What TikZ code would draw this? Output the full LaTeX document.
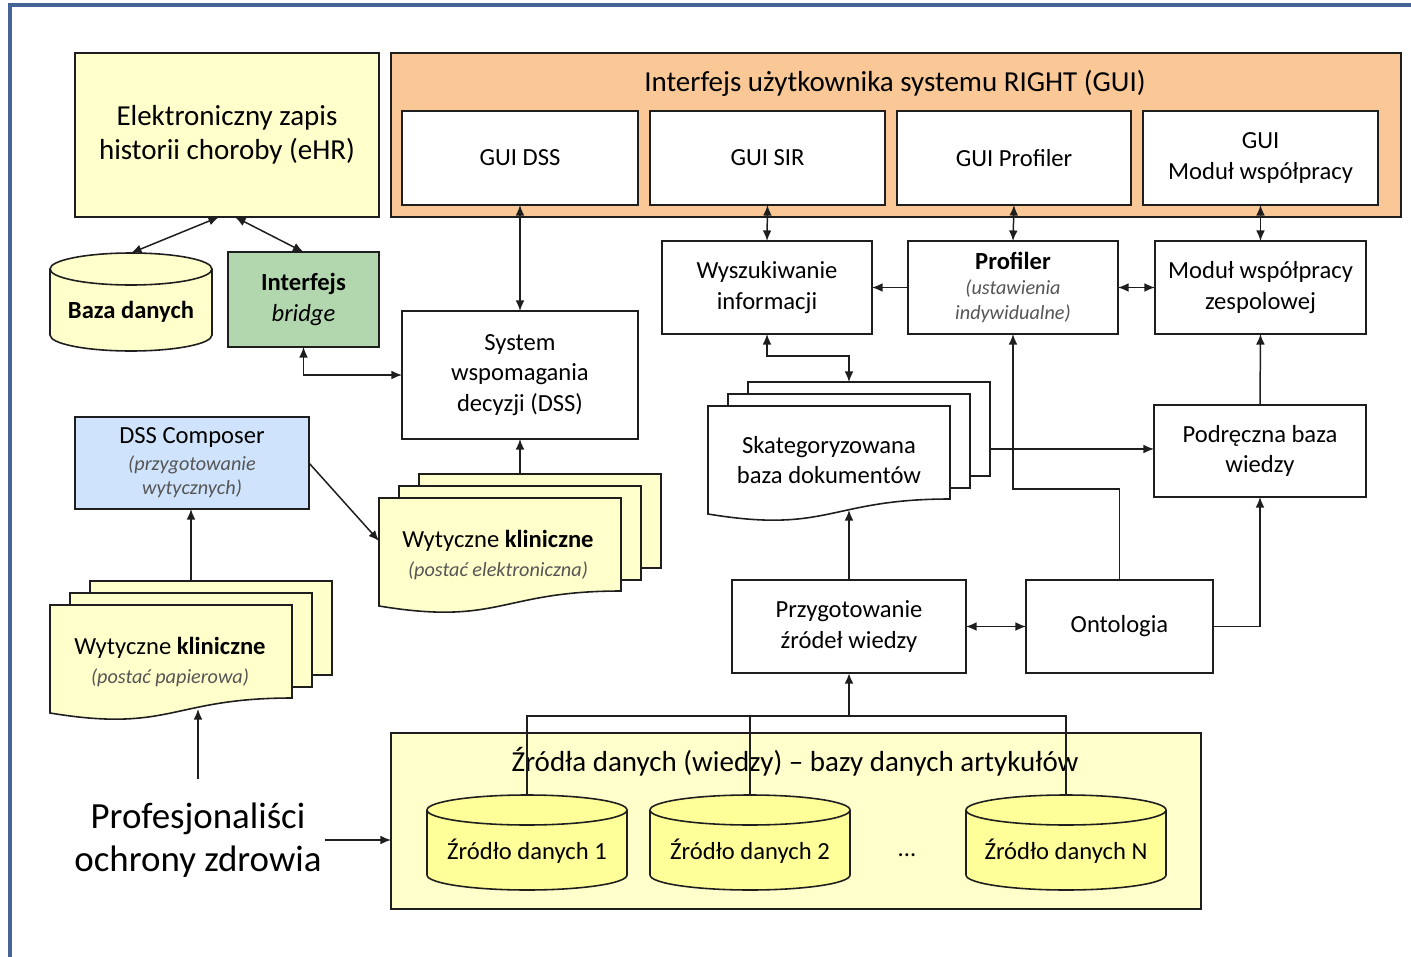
\documentclass[tikz,border=0pt]{standalone}
\usepackage{fontspec}
\setmainfont{Carlito}
\usepackage{tikz}
\usetikzlibrary{arrows.meta,calc}
\definecolor{figline}{RGB}{30,30,30}
\definecolor{figframe}{RGB}{68,100,152}
\definecolor{figyel}{RGB}{255,255,204}
\definecolor{figdb}{RGB}{255,255,153}
\definecolor{figgui}{RGB}{250,200,150}
\definecolor{figgreen}{RGB}{178,214,174}
\definecolor{figblue}{RGB}{207,228,252}
\definecolor{fignote}{RGB}{85,85,85}
\tikzset{
  sc/.style   ={draw=figline, line width=0.9pt},
  sz/.style 2 args={minimum width=#1*0.02cm, minimum height=#2*0.02cm, outer sep=0pt},
  box/.style  ={sc, fill=white, align=center, inner sep=0pt, font=\fontsize{14}{17.5}\selectfont},
  txt/.style  ={align=center, inner sep=0pt, font=\fontsize{14}{17.5}\selectfont},
  ptr/.style  ={draw=figline, line width=0.85pt, -{Latex[length=6pt,width=5pt]}},
  dptr/.style ={draw=figline, line width=0.85pt, {Latex[length=6pt,width=5pt]}-{Latex[length=6pt,width=5pt]}},
  bus/.style  ={draw=figline, line width=0.6pt},
}
\newcommand{\notetxt}[1]{{\fontsize{11.5}{14}\selectfont\itshape\color{fignote}#1}}
% stack of three pages: name, left, top, fill
\newcommand{\docstack}[4]{%
  \draw[sc, fill=#4] ({#2+40},{#3-24}) rectangle ({#2+282},{#3+70});
  \draw[sc, fill=#4] ({#2+20},{#3-12}) rectangle ({#2+262},{#3+82});
  \draw[sc, fill=#4] (#2,#3) -- ({#2+242},#3) -- ({#2+242},{#3+93})
    .. controls ({#2+121},{#3+93}) and ({#2+121},{#3+128}) .. (#2,{#3+108}) -- cycle;
  \node[sz={282}{134}, inner sep=0pt] (#1) at ({#2+141},{#3+43}) {};
  \coordinate (#1-w) at ({#2+141},{#3+104});
}
% database drum: name, cx, top, width, height, ry, fill, text
\newcommand{\dbcyl}[8]{%
  \draw[sc, fill=#7] ({#2-#4/2},{#3+#6}) -- ({#2-#4/2},{#3+#5-#6})
    arc[start angle=180, end angle=0, x radius=#4/2, y radius=#6]
    -- ({#2+#4/2},{#3+#6})
    arc[start angle=0, end angle=-180, x radius=#4/2, y radius=#6] -- cycle;
  \draw[sc] ({#2-#4/2},{#3+#6}) arc[start angle=180, end angle=0, x radius=#4/2, y radius=#6];
  \node[txt, sz={#4}{#5}] (#1) at (#2,{#3+#5/2}) {\raisebox{-0.33cm}[0pt][0pt]{#8}};
}

\begin{document}
\begin{tikzpicture}[x=0.02cm, y=-0.02cm]
  \useasboundingbox (0,0) rectangle (1411,957);
  \draw[figframe, line width=2.2pt] (10,957) -- (10,5) -- (1411,5);

  % eHR, local database, bridge
  \node[box, sz={304}{164}, fill=figyel, font=\fontsize{16.5}{19.3}\selectfont] (ehr) at (227,135) {Elektroniczny zapis\\historii choroby (eHR)};
  \dbcyl{baza}{131}{253}{162}{98}{16}{figyel}{\textbf{Baza danych}}
  \node[box, sz={151}{95}, fill=figgreen] (bridge) at (303.5,299.5) {\textbf{Interfejs}\\\textit{bridge}};

  % GUI panel
  \node[box, sz={1010}{164}, fill=figgui] (gui) at (896,135) {};
  \node[txt, font=\fontsize{16.5}{19}\selectfont] (guititle) at (895,83) {Interfejs użytkownika systemu RIGHT (GUI)};
  \node[box, sz={236}{94}] (guidss) at (520,158) {GUI DSS};
  \node[box, sz={235}{94}] (guisir) at (767.5,158) {GUI SIR};
  \node[box, sz={234}{94}] (guiprof) at (1014,158) {GUI Profiler};
  \node[box, sz={235}{94}] (guimod) at (1260.5,158) {GUI\\Moduł współpracy};

  % modules
  \node[box, sz={236}{128}] (dss) at (520,375) {System\\wspomagania\\decyzji (DSS)};
  \node[box, sz={210}{93}] (wysz) at (767,287.5) {Wyszukiwanie\\informacji};
  \node[box, sz={210}{93}] (prof) at (1013,287.5) {\textbf{Profiler}\\[-3pt]\notetxt{(ustawienia}\\[-3.5pt]\notetxt{indywidualne)}};
  \node[box, sz={211}{93}] (modul) at (1260.5,287.5) {Moduł współpracy\\zespolowej};
  \node[box, sz={212}{92}] (podr) at (1260,451) {Podręczna baza\\wiedzy};
  \node[box, sz={187}{93}] (onto) at (1119.5,626.5) {Ontologia};
  \node[box, sz={234}{93}] (przyg) at (849,626.5) {Przygotowanie\\źródeł wiedzy};
  \node[box, sz={234}{92}, fill=figblue] (comp) at (192,463) {DSS Composer\\[-2.5pt]\notetxt{(przygotowanie}\\[-3.5pt]\notetxt{wytycznych)}};

  % document stacks
  \docstack{skat}{708}{406}{white}
  \node[txt] (skattxt) at (829,460) {Skategoryzowana\\baza dokumentów};
  \docstack{wel}{379}{498}{figyel}
  \node[txt] (weltxt) at (498,555) {Wytyczne \textbf{kliniczne}\\[-1.5pt]\notetxt{(postać elektroniczna)}};
  \docstack{wpap}{50}{605}{figyel}
  \node[txt] (wpaptxt) at (170,662) {Wytyczne \textbf{kliniczne}\\[-1.5pt]\notetxt{(postać papierowa)}};

  % data sources
  \node[box, sz={810}{176}, fill=figyel] (src) at (796,821) {};
  \node[txt, font=\fontsize{16.5}{19}\selectfont] (srctitle) at (795,762) {Źródła danych (wiedzy) -- bazy danych artykułów};
  \dbcyl{src1}{527}{795}{200}{95}{15}{figdb}{Źródło danych 1}
  \dbcyl{src2}{750}{795}{200}{95}{15}{figdb}{Źródło danych 2}
  \dbcyl{srcn}{1066}{795}{200}{95}{15}{figdb}{Źródło danych N}
  \node[txt] (dots) at (907,855) {...};
  \node[align=center, inner sep=2pt, font=\fontsize{21}{24.5}\selectfont] (profs) at (198,840) {Profesjonaliści\\ochrony zdrowia};

  % connectors
  \draw[dptr] ($(ehr.south)+(-8,0)$) -- (baza.north);
  \draw[dptr] ($(ehr.south)+(8,0)$) -- (bridge.north);
  \draw[dptr] (bridge.south) |- (dss.west);
  \draw[dptr] (guidss.south) -- (dss.north);
  \draw[dptr] (guisir.south) -- (wysz.north);
  \draw[dptr] (guiprof.south) -- (prof.north);
  \draw[dptr] (guimod.south) -- (modul.north);
  \draw[ptr] (prof.west) -- (wysz.east);
  \draw[dptr] (prof.east) -- (modul.west);
  \draw[dptr] (wysz.south) -- ++(0,22) -| (skat.north);
  \draw[ptr] (skat.east) -- (skat.east -| podr.west);
  \draw[ptr] (onto.north) -- ++(0,-91) -| (prof.south);
  \draw[ptr] (podr.north) -- (modul.south);
  \draw[ptr] (onto.east) -| (podr.south);
  \draw[dptr] (przyg.east) -- (onto.west);
  \draw[ptr] (przyg.north) -- (skat-w);
  \draw[ptr] (wel.north) -- (dss.south);
  \draw[ptr] (comp.east) -- (wel.west);
  \draw[ptr] (wpap.north) -- (wpap.north |- comp.south);
  \draw[ptr] (profs.north) ++(0,-20) -- (profs.north |- wpap-w);
  \draw[ptr] (profs.east) -- (profs.east -| src.west);

  \coordinate (bus) at (849,716);
  \draw[bus] (src1.north) |- (bus);
  \draw[bus] (srcn.north) |- (bus);
  \draw[bus] (src2.north) -- (src2.north |- bus);
  \draw[ptr, line width=1.2pt] (bus) -- (przyg.south);
\end{tikzpicture}
\end{document}
